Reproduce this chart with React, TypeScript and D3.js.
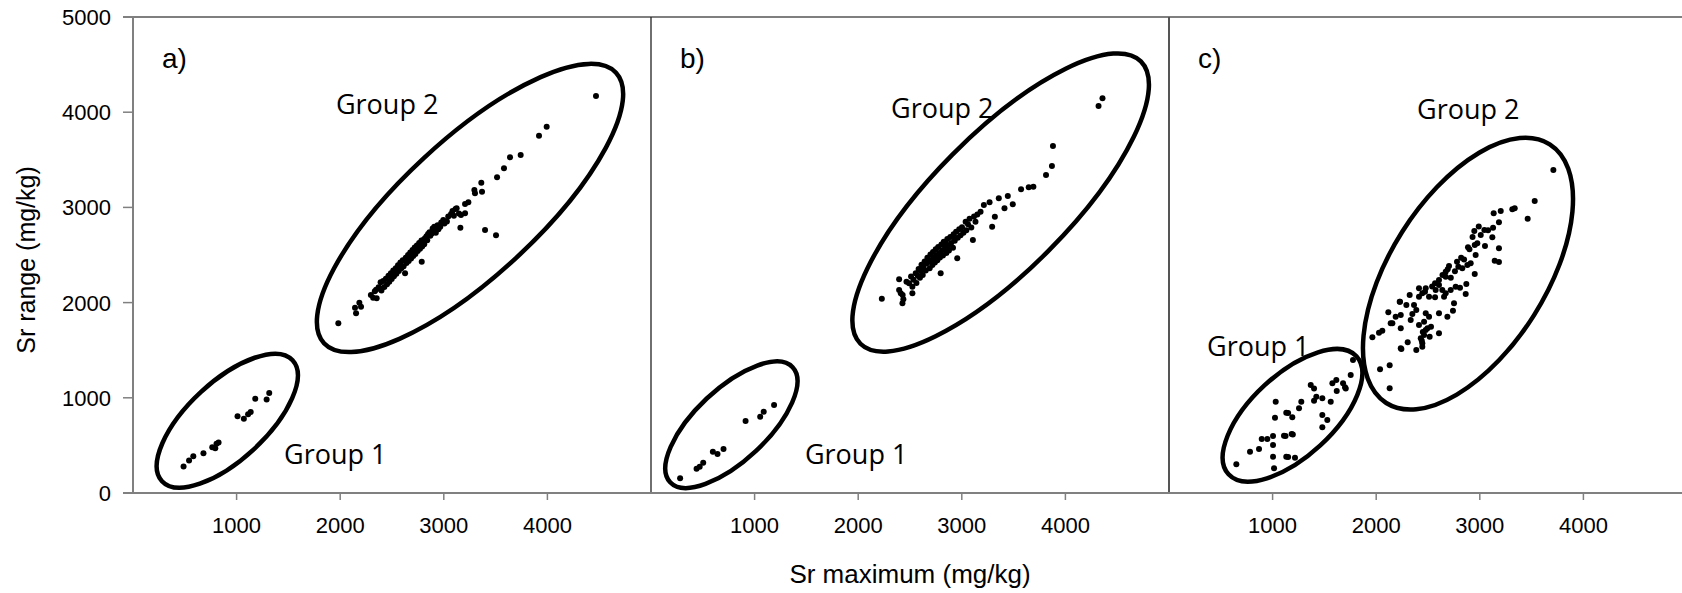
import React from 'react';
import * as d3 from 'd3';

type Pt = [number, number];

// ---- data (Sr maximum, Sr range) in mg/kg ----
const panelNames = ['a)', 'b)', 'c)'];
const xTickValues = [1000, 2000, 3000, 4000];
const yTickValues = [0, 1000, 2000, 3000, 4000, 5000];
const xTitle = 'Sr maximum (mg/kg)';
const yTitle = 'Sr range (mg/kg)';

const aGroup1: Pt[] = [
  [488, 278], [541, 341], [582, 387], [680, 418], [765, 481], [794, 471], [806, 517], [826, 531],
  [1009, 805], [1070, 780], [1111, 826], [1136, 851], [1180, 991], [1290, 981], [1315, 1051],
];

const aGroup2: Pt[] = [
  [1982, 1782], [2143, 1947], [2153, 1887], [2185, 1999], [2201, 1957],
  [2296, 2081], [2318, 2052], [2334, 2118], [2352, 2045], [2347, 2134], [2371, 2160], [2384, 2150],
  [2390, 2214], [2398, 2127], [2415, 2228], [2426, 2163], [2441, 2251], [2452, 2192], [2466, 2282],
  [2474, 2219], [2489, 2309], [2497, 2248], [2512, 2338], [2519, 2276], [2536, 2360], [2542, 2303],
  [2558, 2392], [2566, 2331], [2581, 2420], [2590, 2362], [2604, 2446], [2612, 2383], [2626, 2308],
  [2633, 2470], [2640, 2415], [2655, 2499], [2661, 2438], [2676, 2526], [2684, 2463], [2698, 2552],
  [2705, 2490], [2719, 2578], [2726, 2512], [2740, 2600], [2748, 2541], [2762, 2627], [2770, 2565],
  [2784, 2652], [2787, 2430], [2791, 2590], [2802, 2658], [2811, 2612], [2818, 2675], [2833, 2698],
  [2840, 2655], [2848, 2720], [2862, 2740], [2870, 2702], [2884, 2726], [2892, 2779], [2908, 2798],
  [2915, 2764], [2923, 2735], [2940, 2812], [2948, 2771], [2966, 2796], [2975, 2842], [2995, 2868],
  [3006, 2830], [3030, 2851], [3043, 2905], [3070, 2930], [3084, 2961], [3097, 2912], [3113, 2983],
  [3124, 2990], [3146, 2937], [3166, 2920], [3160, 2787], [3205, 2938],
  [3205, 3036], [3237, 3053], [3295, 3183], [3301, 3148], [3362, 3260], [3369, 3165], [3398, 2763],
  [3504, 2707], [3514, 3316], [3581, 3411], [3639, 3526], [3742, 3550], [3919, 3753], [3993, 3848],
  [4469, 4171],
];

const bGroup1: Pt[] = [
  [281, 154], [440, 255], [470, 275], [504, 318], [597, 434], [642, 410], [700, 462],
  [913, 756], [1054, 802], [1088, 854], [1188, 924],
];

const bGroup2: Pt[] = [
  [2228, 2041], [2395, 2244], [2395, 2132], [2411, 2097], [2427, 1992], [2436, 2035], [2429, 2080],
  [2523, 2097], [2466, 2220], [2491, 2202], [2510, 2275], [2523, 2167], [2534, 2240], [2555, 2308],
  [2562, 2205], [2575, 2282], [2583, 2352], [2596, 2260], [2604, 2331], [2611, 2398], [2623, 2290],
  [2630, 2375], [2641, 2432], [2652, 2337], [2660, 2410], [2668, 2470], [2683, 2430], [2690, 2362],
  [2697, 2505], [2705, 2447], [2716, 2395], [2722, 2532], [2731, 2471], [2740, 2420], [2748, 2560],
  [2756, 2498], [2764, 2446], [2772, 2585], [2781, 2522], [2796, 2307], [2789, 2473], [2803, 2610],
  [2810, 2550], [2818, 2495], [2826, 2640], [2844, 2623], [2838, 2572], [2851, 2520], [2860, 2668],
  [2868, 2600], [2876, 2548], [2889, 2690], [2897, 2627], [2908, 2693], [2915, 2575], [2921, 2718],
  [2932, 2650], [2945, 2745], [2956, 2465], [2961, 2680], [2975, 2770], [2988, 2708], [3002, 2792],
  [3016, 2735], [3037, 2850], [3044, 2760], [3060, 2822], [3075, 2880], [3092, 2790], [3107, 2658],
  [3118, 2905], [3132, 2850], [3150, 2925], [3181, 2955], [3213, 3025], [3268, 3053], [3293, 2797],
  [3319, 2902], [3357, 3095], [3412, 2990], [3444, 3120], [3492, 3032],
  [3572, 3190], [3646, 3211], [3691, 3218], [3813, 3340], [3870, 3435], [3880, 3645],
  [4320, 4065], [4358, 4146],
];

const cGroup1: Pt[] = [
  [650, 301], [782, 434], [869, 462], [895, 567], [949, 567], [1004, 504], [1004, 382], [1014, 259],
  [1004, 599], [1110, 602], [1125, 600], [1184, 620], [1195, 615], [1132, 382], [1150, 378],
  [1216, 371], [1023, 791], [1030, 959], [1132, 844], [1150, 840], [1190, 795], [1255, 889],
  [1277, 959], [1368, 1134], [1400, 1099], [1400, 970], [1422, 1012], [1480, 995], [1561, 959],
  [1480, 819], [1528, 767], [1480, 690], [1577, 1152], [1615, 1187], [1619, 1071], [1680, 1152],
  [1706, 1099], [1699, 1110], [1754, 1239], [1776, 1397],
];

const cGroup2: Pt[] = [
  [3710, 3393], [3530, 3067], [3462, 2881], [3337, 2990], [3314, 2980], [3202, 2962], [3134, 2938],
  [3185, 2843], [3128, 2787], [3044, 2763], [2947, 2752], [3009, 2710], [3121, 2686], [3185, 2570],
  [3144, 2440], [3185, 2426], [2976, 2623], [2951, 2605], [3050, 2594], [2886, 2581], [2960, 2500],
  [2848, 2454], [2912, 2413], [2880, 2395], [2831, 2360], [2793, 2377], [2703, 2384], [2671, 2325],
  [2951, 2300], [2870, 2195], [2864, 2090], [2809, 2157], [2767, 2167], [2719, 2132], [2671, 2097],
  [2638, 2132], [2606, 2185], [2574, 2132], [2510, 2062], [2478, 2150], [2445, 2097], [2413, 2062],
  [2413, 2150], [2751, 1992], [2655, 2062], [2568, 2055], [2471, 2115], [2323, 2080], [2230, 2010],
  [2291, 1975], [2365, 1975], [2387, 1922], [2117, 1898], [2188, 1852], [2237, 1870], [2349, 1880],
  [2478, 1887], [2510, 1852], [2462, 1800], [2413, 1765], [2529, 1747], [2606, 1677], [2478, 1712],
  [2462, 1660], [2430, 1625], [2445, 1572], [2387, 1502], [2304, 1583], [2237, 1520], [2237, 1730],
  [2140, 1782], [2059, 1705], [2027, 1684], [1963, 1635], [2037, 1299], [2130, 1341], [2130, 1100],
  [2333, 1817], [2450, 1690], [2495, 1730], [2440, 1600], [2606, 1887], [2687, 1852], [2741, 1915],
  [2606, 2237], [2671, 2272], [2568, 2202], [2540, 2170], [2640, 2290], [2690, 2350], [2720, 2260],
  [2760, 2330], [2780, 2430], [2820, 2470], [2900, 2560], [2930, 2690], [2990, 2800], [3080, 2760],
  [2227, 2010], [2243, 1513], [2445, 1537], [2516, 1642], [2156, 1782],
];

const panelPoints: Pt[][][] = [
  [aGroup1, aGroup2],
  [bGroup1, bGroup2],
  [cGroup1, cGroup2],
];

// Outline ellipses around each group: centre in data units, radii (px) and tilt (deg)
const groupEllipses = [
  [{ cx: 910, cy: 759, rx: 89, ry: 39, tilt: 42.8 }, { cx: 3253, cy: 2994, rx: 199, ry: 68, tilt: 42.8 }],
  [{ cx: 776, cy: 717, rx: 84, ry: 36, tilt: 43.2 }, { cx: 3375, cy: 3051, rx: 199, ry: 68, tilt: 45.2 }],
  [{ cx: 1192, cy: 816, rx: 87, ry: 41, tilt: 42.7 }, { cx: 2886, cy: 2304, rx: 153, ry: 78, tilt: 57.7 }],
];

// Group captions: text start and baseline, in data units
const groupCaptions = [
  [{ text: 'Group 1', x: 1458, y: 305 }, { text: 'Group 2', x: 1959, y: 3981 }],
  [{ text: 'Group 1', x: 1486, y: 305 }, { text: 'Group 2', x: 2317, y: 3939 }],
  [{ text: 'Group 1', x: 367, y: 1439 }, { text: 'Group 2', x: 2394, y: 3929 }],
];

const W = 1682;
const H = 593;
const TOP = 17;
const BOTTOM = 493;
const PANEL_W = 518;
const PANEL_LEFT = [133, 651, 1169];
const AXIS_GREY = '#808080';
const ARIAL = '"Liberation Sans", Arial, sans-serif';
const CAPTION_FONT = '"Open Sans", "Noto Sans", sans-serif';

export default function App() {
  const y = d3.scaleLinear().domain([0, 5000]).range([BOTTOM, TOP]);
  const xs = PANEL_LEFT.map((l) => d3.scaleLinear().domain([0, 5000]).range([l, l + PANEL_W]));

  return (
    <svg
      width={W}
      height={H}
      viewBox={`0 0 ${W} ${H}`}
      style={{ position: 'absolute', left: 0, top: 0, background: '#fff' }}
    >
      <rect x={0} y={0} width={W} height={H} fill="#fff" />

      {/* frame */}
      <line x1={123} x2={W} y1={TOP} y2={TOP} stroke="#000" strokeWidth={1.2} />
      <line x1={PANEL_LEFT[1]} x2={PANEL_LEFT[1]} y1={TOP} y2={BOTTOM} stroke="#222" strokeWidth={1.3} />
      <line x1={PANEL_LEFT[2]} x2={PANEL_LEFT[2]} y1={TOP} y2={BOTTOM} stroke="#555" strokeWidth={2} />
      <line x1={PANEL_LEFT[0]} x2={PANEL_LEFT[0]} y1={TOP} y2={BOTTOM} stroke={AXIS_GREY} strokeWidth={2} />
      <line x1={123} x2={W} y1={BOTTOM} y2={BOTTOM} stroke={AXIS_GREY} strokeWidth={2} />

      {/* y axis ticks and labels */}
      {yTickValues.map((v) => (
        <g key={`yt${v}`}>
          <line x1={123} x2={PANEL_LEFT[0]} y1={y(v)} y2={y(v)} stroke={AXIS_GREY} strokeWidth={1.5} />
          <text
            x={111}
            y={y(v)}
            dy="0.36em"
            textAnchor="end"
            fontFamily={ARIAL}
            fontSize={22}
            fill="#000"
          >
            {v}
          </text>
        </g>
      ))}

      {/* x axis ticks and labels per panel */}
      {xs.map((x, pi) =>
        xTickValues.map((v) => (
          <g key={`xt${pi}-${v}`}>
            <line x1={x(v)} x2={x(v)} y1={BOTTOM} y2={BOTTOM + 7} stroke={AXIS_GREY} strokeWidth={1.5} />
            <text x={x(v)} y={533} textAnchor="middle" fontFamily={ARIAL} fontSize={22} fill="#000">
              {v}
            </text>
          </g>
        ))
      )}

      {/* axis titles */}
      <text x={910} y={583} textAnchor="middle" fontFamily={ARIAL} fontSize={26} fill="#000">
        {xTitle}
      </text>
      <text
        transform="translate(35,260) rotate(-90)"
        textAnchor="middle"
        fontFamily={ARIAL}
        fontSize={25}
        fill="#000"
      >
        {yTitle}
      </text>

      {/* panels */}
      {xs.map((x, pi) => (
        <g key={`p${pi}`}>
          <text x={PANEL_LEFT[pi] + 29} y={68} fontFamily={ARIAL} fontSize={28} fill="#000">
            {panelNames[pi]}
          </text>
          {panelPoints[pi].map((grp, gi) =>
            grp.map((d, i) => (
              <circle key={`c${gi}-${i}`} cx={x(d[0])} cy={y(d[1])} r={3} fill="#000" />
            ))
          )}
          {groupEllipses[pi].map((e, ei) => {
            const cx = x(e.cx);
            const cy = y(e.cy);
            return (
              <ellipse
                key={`e${ei}`}
                cx={cx}
                cy={cy}
                rx={e.rx}
                ry={e.ry}
                transform={`rotate(${-e.tilt} ${cx} ${cy})`}
                fill="none"
                stroke="#000"
                strokeWidth={4.5}
              />
            );
          })}
          {groupCaptions[pi].map((c, ci) => (
            <text
              key={`g${ci}`}
              x={x(c.x)}
              y={y(c.y)}
              fontFamily={CAPTION_FONT}
              fontSize={27}
              fill="#000"
            >
              {c.text}
            </text>
          ))}
        </g>
      ))}
    </svg>
  );
}
